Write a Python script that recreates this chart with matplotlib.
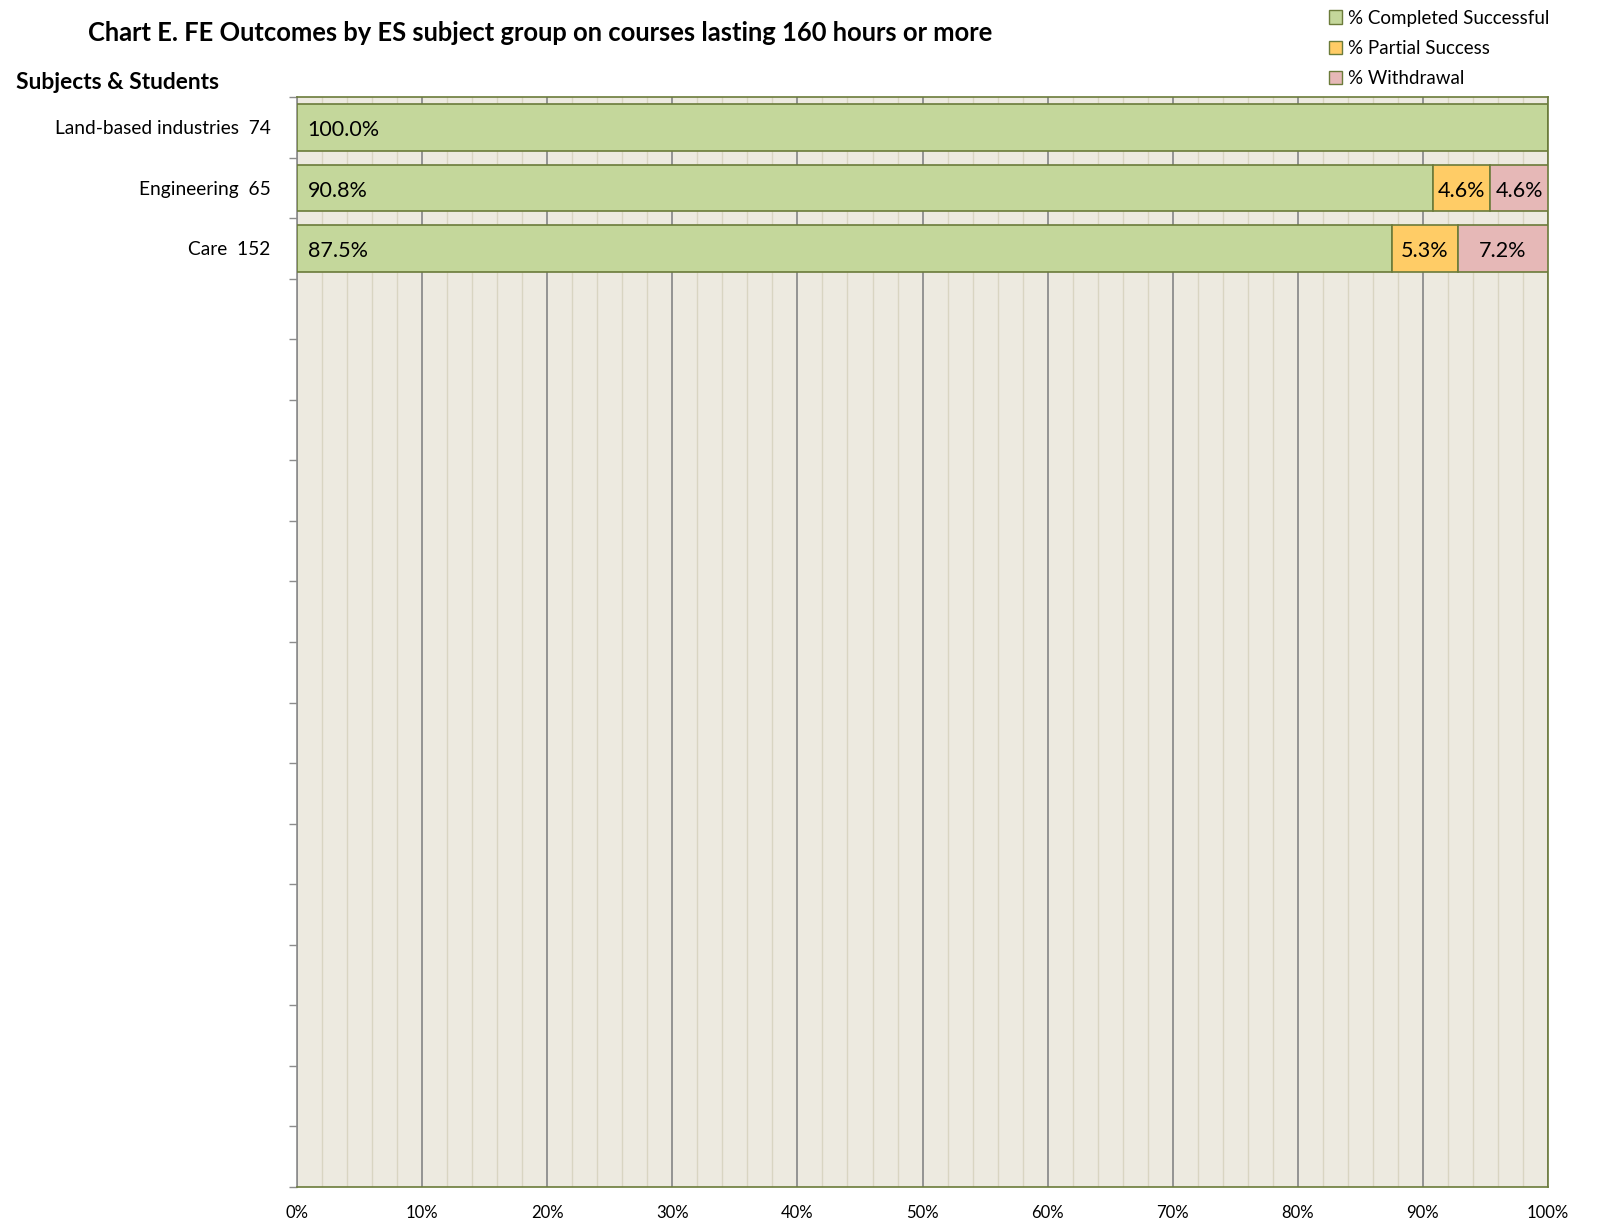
import numpy as np
import matplotlib.pyplot as plt
from matplotlib.patches import Patch

plt.rcParams['font.family'] = ['Lato', 'DejaVu Sans']

# data
subjects = ['Land-based industries  74', 'Engineering  65', 'Care  152']
completed = [100.0, 90.8, 87.5]
partial = [0.0, 4.6, 5.3]
withdrawal = [0.0, 4.6, 7.2]
n_slots = 18  # the chart keeps room for 18 categories, only 3 are used
x_ticks = np.arange(0, 101, 10)

green = '#C4D79B'
orange = '#FFCC66'
pink = '#E6B8B7'
edge = '#6B7B3A'

fig = plt.figure(figsize=(16.04, 12.25), dpi=100)
ax = fig.add_axes([0.1852, 0.0310, 0.7799, 0.8898])
ax.set_facecolor('#EDEAE0')

y = np.arange(len(subjects))
h = 0.77
ax.barh(y, completed, height=h, color=green, edgecolor=edge, linewidth=1.2, zorder=3)
left2 = np.array(completed)
ax.barh(y, partial, left=left2, height=h, color=orange, edgecolor=edge, linewidth=1.2, zorder=3)
left3 = left2 + np.array(partial)
ax.barh(y, withdrawal, left=left3, height=h, color=pink, edgecolor=edge, linewidth=1.2, zorder=3)

# value labels (sit a touch below bar centre, like the original)
for i in range(len(subjects)):
    ty = y[i] + 0.05
    ax.text(0.85, ty, f'{completed[i]:.1f}%', va='center', ha='left', fontsize=15.5, zorder=4)
    if partial[i] > 0:
        ax.text(left2[i] + partial[i] / 2, ty, f'{partial[i]:.1f}%', va='center', ha='center',
                fontsize=15.5, zorder=4)
    if withdrawal[i] > 0:
        ax.text(left3[i] + withdrawal[i] / 2, ty, f'{withdrawal[i]:.1f}%', va='center', ha='center',
                fontsize=15.5, zorder=4)

ax.set_xlim(0, 100)
ax.set_ylim(n_slots - 0.5, -0.5)

ax.set_xticks(x_ticks)
ax.set_xticklabels([f'{v}%' for v in x_ticks], fontsize=12)
ax.set_xticks(np.arange(0, 101, 2), minor=True)
ax.tick_params(axis='x', which='both', length=0, pad=13)

ax.set_yticks(y)
ax.set_yticklabels(subjects, fontsize=13.8)
ax.set_yticks(np.arange(-0.5, n_slots, 1), minor=True)
ax.tick_params(axis='y', which='major', length=0, pad=19)
ax.tick_params(axis='y', which='minor', length=6, color='#8C8C8C', width=1)

ax.grid(axis='x', which='minor', color='#D9D5C2', linewidth=1, zorder=1)
ax.grid(axis='x', which='major', color='#8C8C8C', linewidth=1.3, zorder=2)
ax.set_axisbelow(True)

for s in ['top', 'right', 'bottom']:
    ax.spines[s].set_color(edge)
    ax.spines[s].set_linewidth(1.2)
ax.spines['left'].set_color('#8C8C8C')
ax.spines['left'].set_linewidth(1.2)

fig.text(0.337, 0.973, 'Chart E. FE Outcomes by ES subject group on courses lasting 160 hours or more',
         ha='center', va='center', fontsize=18.4, fontweight='bold')
fig.text(0.010, 0.933, 'Subjects & Students', ha='left', va='center', fontsize=16.4, fontweight='bold')

handles = [Patch(facecolor=green, edgecolor=edge, label='% Completed Successful'),
           Patch(facecolor=orange, edgecolor=edge, label='% Partial Success'),
           Patch(facecolor=pink, edgecolor=edge, label='% Withdrawal')]
fig.legend(handles=handles, loc='upper left', bbox_to_anchor=(0.818, 1.006), frameon=False,
           fontsize=13.5, handlelength=0.7, handleheight=0.7, handletextpad=0.3, labelspacing=0.7)

fig.savefig('out.png', dpi=100)
